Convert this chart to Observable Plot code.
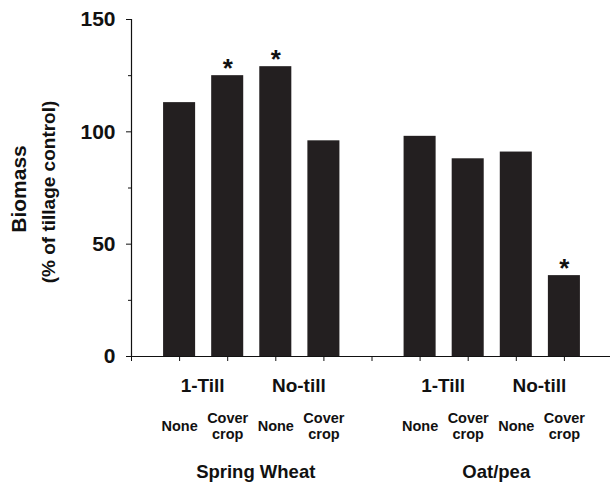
<!DOCTYPE html>
<html>
<head>
<meta charset="utf-8">
<script src="https://cdn.jsdelivr.net/npm/d3@7"></script>
<script src="https://cdn.jsdelivr.net/npm/@observablehq/plot@0.6"></script>
<style>
  html, body { margin: 0; padding: 0; background: #fff; }
  #chart svg { display: block; }
</style>
</head>
<body>
<div id="chart"></div>
<script>
// ---- data ----
const crops = ["Spring Wheat", "Oat/pea"];
const tillage = ["1-Till", "No-till"];
const coverTreat = ["None", "Cover\ncrop"];
const springWheat = [113, 125, 129, 96];
const oatPea = [98, 88, 91, 36];
const significant = [false, true, true, false, false, false, false, true];
const yTicks = [0, 50, 100, 150];
const yMinorTicks = [25, 75, 125];
const yLabel = "Biomass";
const ySubLabel = "(% of tillage control)";

// ---- table ----
const series = [springWheat, oatPea];
const rows = [];
const tillRows = [];
const cropRows = [];
crops.forEach((crop, ci) => {
  const slots = [];
  tillage.forEach((t, ti) => {
    const tslots = [];
    coverTreat.forEach((k, ki) => {
      const i = ti * 2 + ki;
      const pos = 1 + ci * 5 + i;
      tslots.push(pos); slots.push(pos);
      rows.push({crop, tillage: t, cover: k, value: series[ci][i], sig: significant[ci * 4 + i], pos});
    });
    tillRows.push({label: t, pos: d3.mean(tslots)});
  });
  cropRows.push({label: crop, pos: d3.mean(slots)});
});
const tickSlots = d3.range(0, 10);
const half = 0.333;
const font = "Liberation Sans, Arial, Helvetica, sans-serif";

const chart = Plot.plot({
  width: 610,
  height: 483,
  marginLeft: 131,
  marginRight: 0,
  marginTop: 19,
  marginBottom: 127,
  style: {fontFamily: font, color: "#111", background: "#fff"},
  x: {domain: [0, 10], range: [131, 612]},
  y: {domain: [0, 150]},
  marks: [
    Plot.rectY(rows, {x1: d => d.pos - half, x2: d => d.pos + half, y1: 0, y2: "value", fill: "#231f20"}),
    Plot.ruleY([0], {stroke: "#111", strokeWidth: 1.2}),
    Plot.ruleX([0], {stroke: "#111", strokeWidth: 1.2}),
    Plot.axisX({ticks: tickSlots, tickSize: 5, tickFormat: () => "", label: null, stroke: "#111"}),
    Plot.axisY({ticks: yTicks, tickSize: 5, tickPadding: 11, label: null, fontSize: 21, fontWeight: "bold", stroke: "#111"}),
    Plot.axisY({ticks: yMinorTicks, tickSize: 3, tickFormat: () => "", label: null, stroke: "#111"}),
    Plot.text(rows.filter(d => d.sig), {x: "pos", y: "value", text: () => "*", fontSize: 26, fontWeight: "bold", lineAnchor: "bottom", dy: 1, fill: "#111"}),
    Plot.text(tillRows, {x: "pos", y: () => 0, text: "label", dy: 29, dx: -1, fontSize: 19, fontWeight: "bold", fill: "#111"}),
    Plot.text(rows, {x: "pos", y: () => 0, text: "cover", dy: 69, fontSize: 14.5, fontWeight: "bold", lineHeight: 1.1, fill: "#111"}),
    Plot.text(cropRows, {x: "pos", y: () => 0, text: "label", dy: 116, dx: 4, fontSize: 18.5, fontWeight: "bold", fill: "#111"}),
    Plot.text([yLabel], {frameAnchor: "left", textAnchor: "middle", dx: -112, dy: 1, rotate: -90, fontSize: 21, fontWeight: "bold", fill: "#111"}),
    Plot.text([ySubLabel], {frameAnchor: "left", textAnchor: "middle", dx: -83, dy: 4, rotate: -90, fontSize: 19, fontWeight: "bold", fill: "#111"})
  ]
});
document.getElementById("chart").appendChild(chart);
</script>
</body>
</html>
